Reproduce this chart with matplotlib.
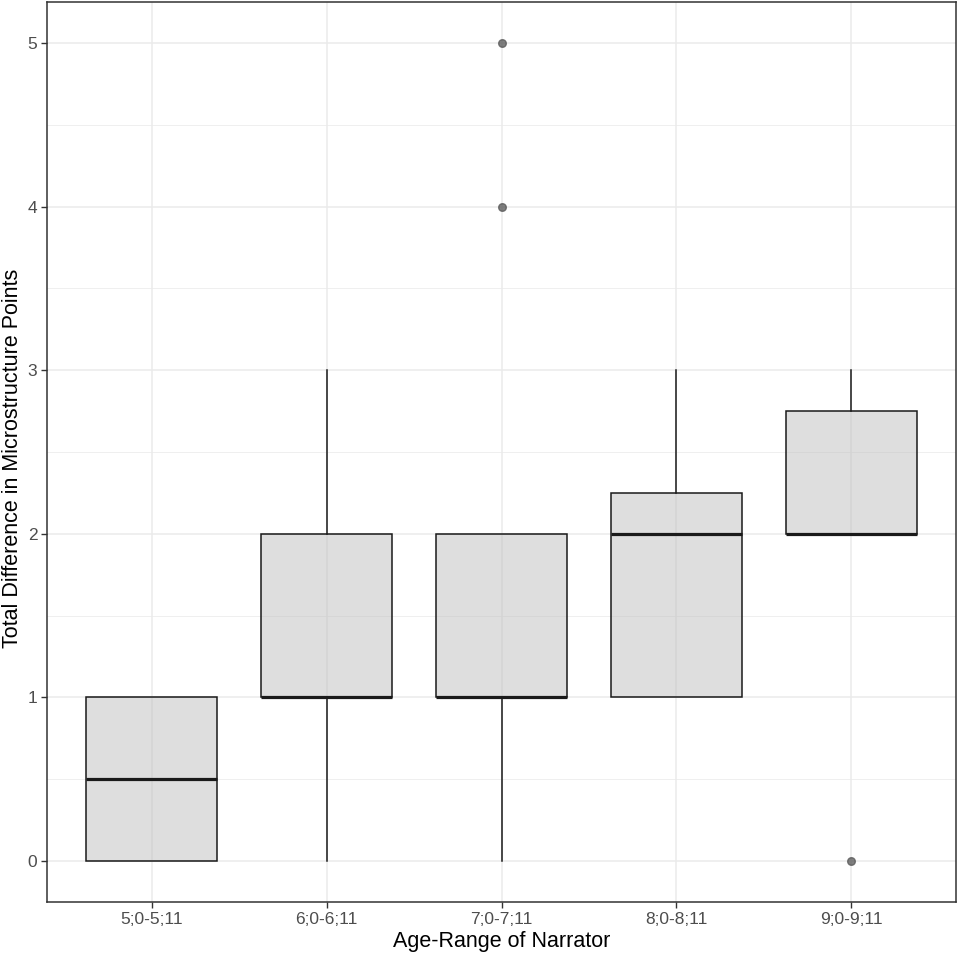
import matplotlib
matplotlib.use("Agg")
import matplotlib.pyplot as plt

# box statistics
groups = ["5;0-5;11", "6;0-6;11", "7;0-7;11", "8;0-8;11", "9;0-9;11"]
q1 = [0, 1, 1, 1, 2]
med = [0.5, 1, 1, 2, 2]
q3 = [1, 2, 2, 2.25, 2.75]
whislo = [0, 0, 0, 1, 2]
whishi = [1, 3, 2, 3, 3]
outliers = [[], [], [4, 5], [], [0]]

plt.rcParams['font.family'] = ['Liberation Sans', 'DejaVu Sans']

fig = plt.figure(figsize=(9.57, 9.57), dpi=100)
ax = fig.add_axes([47 / 957, 55 / 957, 909 / 957, 900 / 957])

stats = []
for i in range(len(groups)):
    stats.append(dict(label=groups[i], q1=q1[i], med=med[i], q3=q3[i],
                      whislo=whislo[i], whishi=whishi[i], fliers=outliers[i]))

ax.bxp(stats, positions=range(1, len(groups) + 1), widths=0.75,
       patch_artist=True, showcaps=False, zorder=3,
       boxprops=dict(facecolor=(0.75, 0.75, 0.75, 0.5), edgecolor='#1a1a1a', linewidth=1.1),
       medianprops=dict(color='#1a1a1a', linewidth=2.3, solid_capstyle='butt'),
       whiskerprops=dict(color='#1a1a1a', linewidth=1.1),
       flierprops=dict(marker='o', markerfacecolor='#555555', markeredgecolor='#555555',
                       alpha=0.75, markersize=5.5))

ax.set_xlim(0.4, 5.6)
ax.set_ylim(-0.25, 5.25)
ax.set_yticks([0, 1, 2, 3, 4, 5])
ax.set_yticks([0.5, 1.5, 2.5, 3.5, 4.5], minor=True)
ax.set_xticks(range(1, len(groups) + 1))
ax.set_xticklabels(groups)

# theme_bw style grid
ax.grid(True, which='major', color='#ebebeb', linewidth=1.1, zorder=0)
ax.grid(True, which='minor', axis='y', color='#ebebeb', linewidth=0.55, zorder=0)
ax.set_axisbelow(True)
ax.tick_params(which='minor', length=0)
ax.tick_params(which='major', length=4, width=1, color='#333333',
               labelsize=12.5, labelcolor='#4d4d4d', pad=3)
for s in ax.spines.values():
    s.set_color('#333333')
    s.set_linewidth(1.1)

ax.set_xlabel("Age-Range of Narrator", fontsize=15.5, color='black', labelpad=3)
ax.set_ylabel("Total Difference in Microstructure Points", fontsize=15.5, color='black')
ax.yaxis.set_label_coords(-0.026, 0.493)

fig.savefig("out.png", dpi=100)
